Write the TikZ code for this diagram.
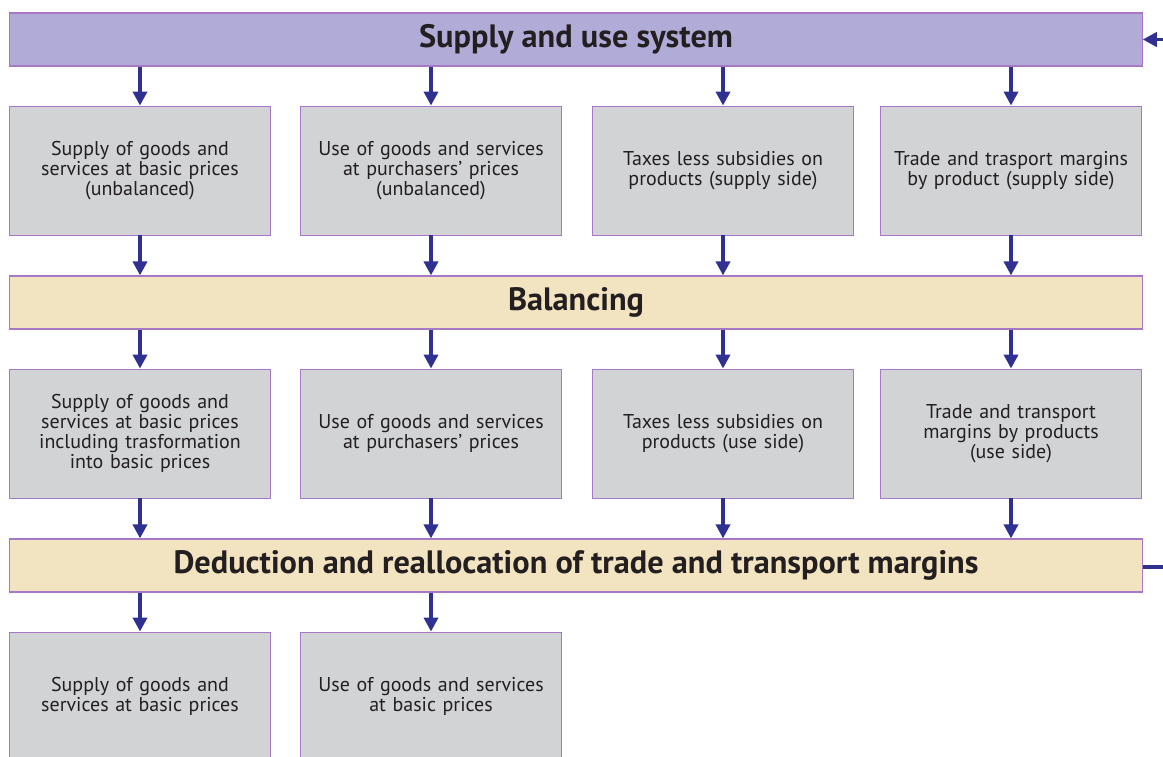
\documentclass[tikz,border=0pt]{standalone}
\usepackage{fontspec}
\setmainfont{PT Sans}
\usepackage{xcolor}
\usetikzlibrary{arrows.meta, positioning}
\definecolor{flowblue}{HTML}{2E3192}
\definecolor{edgepurple}{HTML}{A678C6}
\definecolor{barlilac}{HTML}{B1ACD7}
\definecolor{barcream}{HTML}{F3E4C1}
\definecolor{boxgrey}{HTML}{D1D3D4}
\definecolor{inktext}{HTML}{231F20}
\tikzset{
  stagebox/.style={draw=edgepurple, line width=0.6pt, fill=boxgrey, text=inktext,
    minimum width=6.5cm, minimum height=3.225cm, align=center, text width=6.3cm,
    font=\fontsize{14.2}{14.2}\selectfont},
  stagebar/.style={draw=edgepurple, line width=0.8pt, minimum width=28.3cm,
    minimum height=1.325cm, text=inktext, font=\fontsize{23}{26}\selectfont\bfseries},
  flow/.style={flowblue, line width=2.6pt, -{Triangle[length=10pt,width=10pt]}}
}
\begin{document}
\begin{tikzpicture}[x=0.025cm, y=-0.025cm]
\useasboundingbox (0,0) rectangle (1163,756);
% Bars across the whole width
\node[stagebar, fill=barlilac] (sus) at (576,39.5) {Supply and use system};
\node[stagebar, fill=barcream] (bal) at (576,302.5) {Balancing};
\node[stagebar, fill=barcream] (ded) at (576,565.5) {Deduction and reallocation of trade and transport margins};
% First row: unbalanced
\node[stagebox] (s1) at (140,170.5) {Supply of goods and\\services at basic prices\\(unbalanced)};
\node[stagebox] (s2) at (431,170.5) {Use of goods and services\\at purchasers’ prices\\(unbalanced)};
\node[stagebox] (s3) at (723,170.5) {Taxes less subsidies on\\products (supply side)};
\node[stagebox] (s4) at (1011,170.5) {Trade and trasport margins\\by product (supply side)};
% Second row: balanced
\node[stagebox] (u1) at (140,433.5) {Supply of goods and\\services at basic prices\\including trasformation\\into basic prices};
\node[stagebox] (u2) at (431,433.5) {Use of goods and services\\at purchasers’ prices};
\node[stagebox] (u3) at (723,433.5) {Taxes less subsidies on\\products (use side)};
\node[stagebox] (u4) at (1011,433.5) {Trade and transport\\margins by products\\(use side)};
% Third row: basic prices
\node[stagebox] (f1) at (140,696.5) {Supply of goods and\\services at basic prices};
\node[stagebox] (f2) at (431,696.5) {Use of goods and services\\at basic prices};
% Arrows between the rows
\foreach \n in {1,...,4} {
  \draw[flow] (sus.south -| s\n) -- (s\n);
  \draw[flow] (s\n) -- (bal.north -| s\n);
  \draw[flow] (bal.south -| u\n) -- (u\n);
  \draw[flow] (u\n) -- (ded.north -| u\n);
}
\foreach \n in {1,2}
  \draw[flow] (ded.south -| f\n) -- (f\n);
% Loop back along the right edge
\coordinate (backin) at (1163,39.5);
\coordinate (backout) at (1163,567);
\draw[flow] (backin) -- (sus.east);
\draw[flowblue, line width=2.6pt] (ded.east |- backout) -- (backout);
\end{tikzpicture}
\end{document}
